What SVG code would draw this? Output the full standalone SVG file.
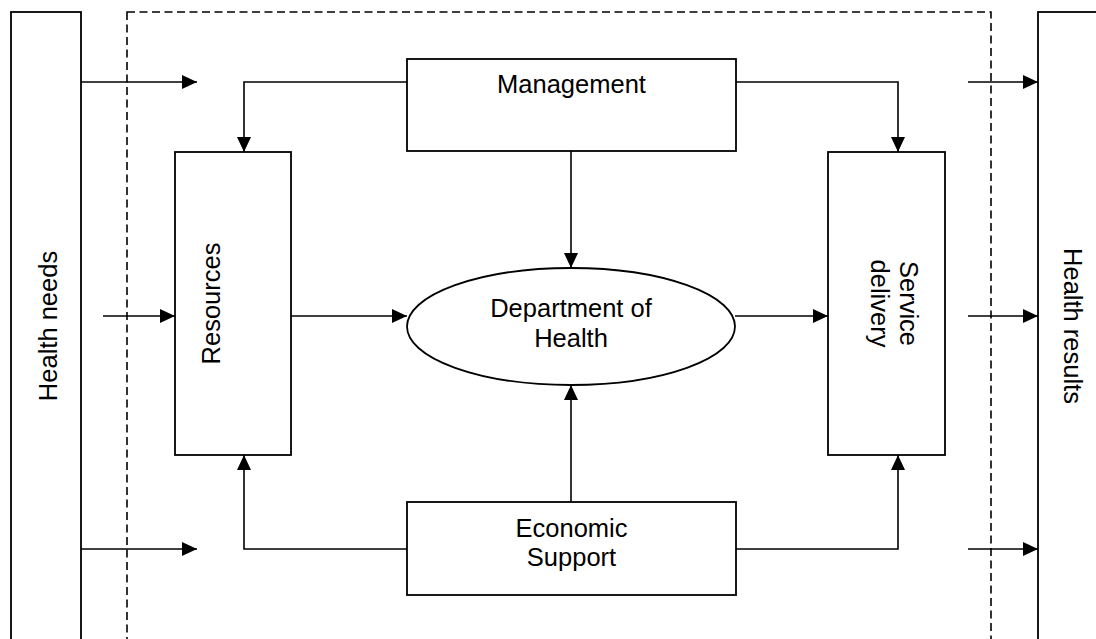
<svg xmlns="http://www.w3.org/2000/svg" width="1096" height="639" viewBox="0 0 1096 639">
  <style>
    .box { fill: #fff; stroke: #000; stroke-width: 1.8; }
    .frame { fill: none; stroke: #000; stroke-width: 1.6; stroke-dasharray: 8 4.5; }
    .wire { fill: none; stroke: #000; stroke-width: 1.6; marker-end: url(#head); }
    text { font-family: "Liberation Sans", Arial, sans-serif; font-size: 25.5px; fill: #000; text-anchor: middle; }
  </style>
  <defs>
    <marker id="head" markerUnits="userSpaceOnUse" markerWidth="15" markerHeight="14" refX="15" refY="7" orient="auto">
      <path d="M0,0 L15,7 L0,14 z" fill="#000"/>
    </marker>
  </defs>

  <rect width="1096" height="639" fill="#fff"/>

  <!-- system boundary -->
  <rect class="frame" x="127" y="12" width="864" height="640"/>

  <g id="health-needs">
    <rect class="box" x="11" y="12" width="70" height="640"/>
    <text transform="translate(56.5,326) rotate(-90)">Health needs</text>
  </g>

  <g id="health-results">
    <rect class="box" x="1038" y="12" width="80" height="640"/>
    <text transform="translate(1063.5,326) rotate(90)">Health results</text>
  </g>

  <g id="management">
    <rect class="box" x="407" y="59" width="329" height="92"/>
    <text x="571.5" y="93">Management</text>
  </g>

  <g id="resources">
    <rect class="box" x="175" y="152" width="116" height="303"/>
    <text transform="translate(220,303.5) rotate(-90)">Resources</text>
  </g>

  <g id="service-delivery">
    <rect class="box" x="828" y="152" width="117" height="303"/>
    <text transform="translate(899.5,303.5) rotate(90)">Service</text>
    <text transform="translate(870.5,303.5) rotate(90)">delivery</text>
  </g>

  <g id="department">
    <ellipse class="box" cx="571" cy="326.5" rx="164" ry="58.5"/>
    <text x="571" y="317">Department of</text>
    <text x="571" y="347">Health</text>
  </g>

  <g id="economic-support">
    <rect class="box" x="407" y="502" width="329" height="93"/>
    <text x="571.5" y="537">Economic</text>
    <text x="571.5" y="566">Support</text>
  </g>

  <g id="connectors">
    <path class="wire" d="M81,82 H197"/>
    <path class="wire" d="M407,82 H244 V152"/>
    <path class="wire" d="M736,82 H898 V152"/>
    <path class="wire" d="M968,82 H1038"/>
    <path class="wire" d="M571,151 V268"/>
    <path class="wire" d="M103,316 H175"/>
    <path class="wire" d="M291,316 H407"/>
    <path class="wire" d="M735,316 H828"/>
    <path class="wire" d="M968,316 H1038"/>
    <path class="wire" d="M571,502 V385"/>
    <path class="wire" d="M407,549 H244 V455"/>
    <path class="wire" d="M736,549 H898 V455"/>
    <path class="wire" d="M81,549 H197"/>
    <path class="wire" d="M968,549 H1038"/>
  </g>
</svg>
